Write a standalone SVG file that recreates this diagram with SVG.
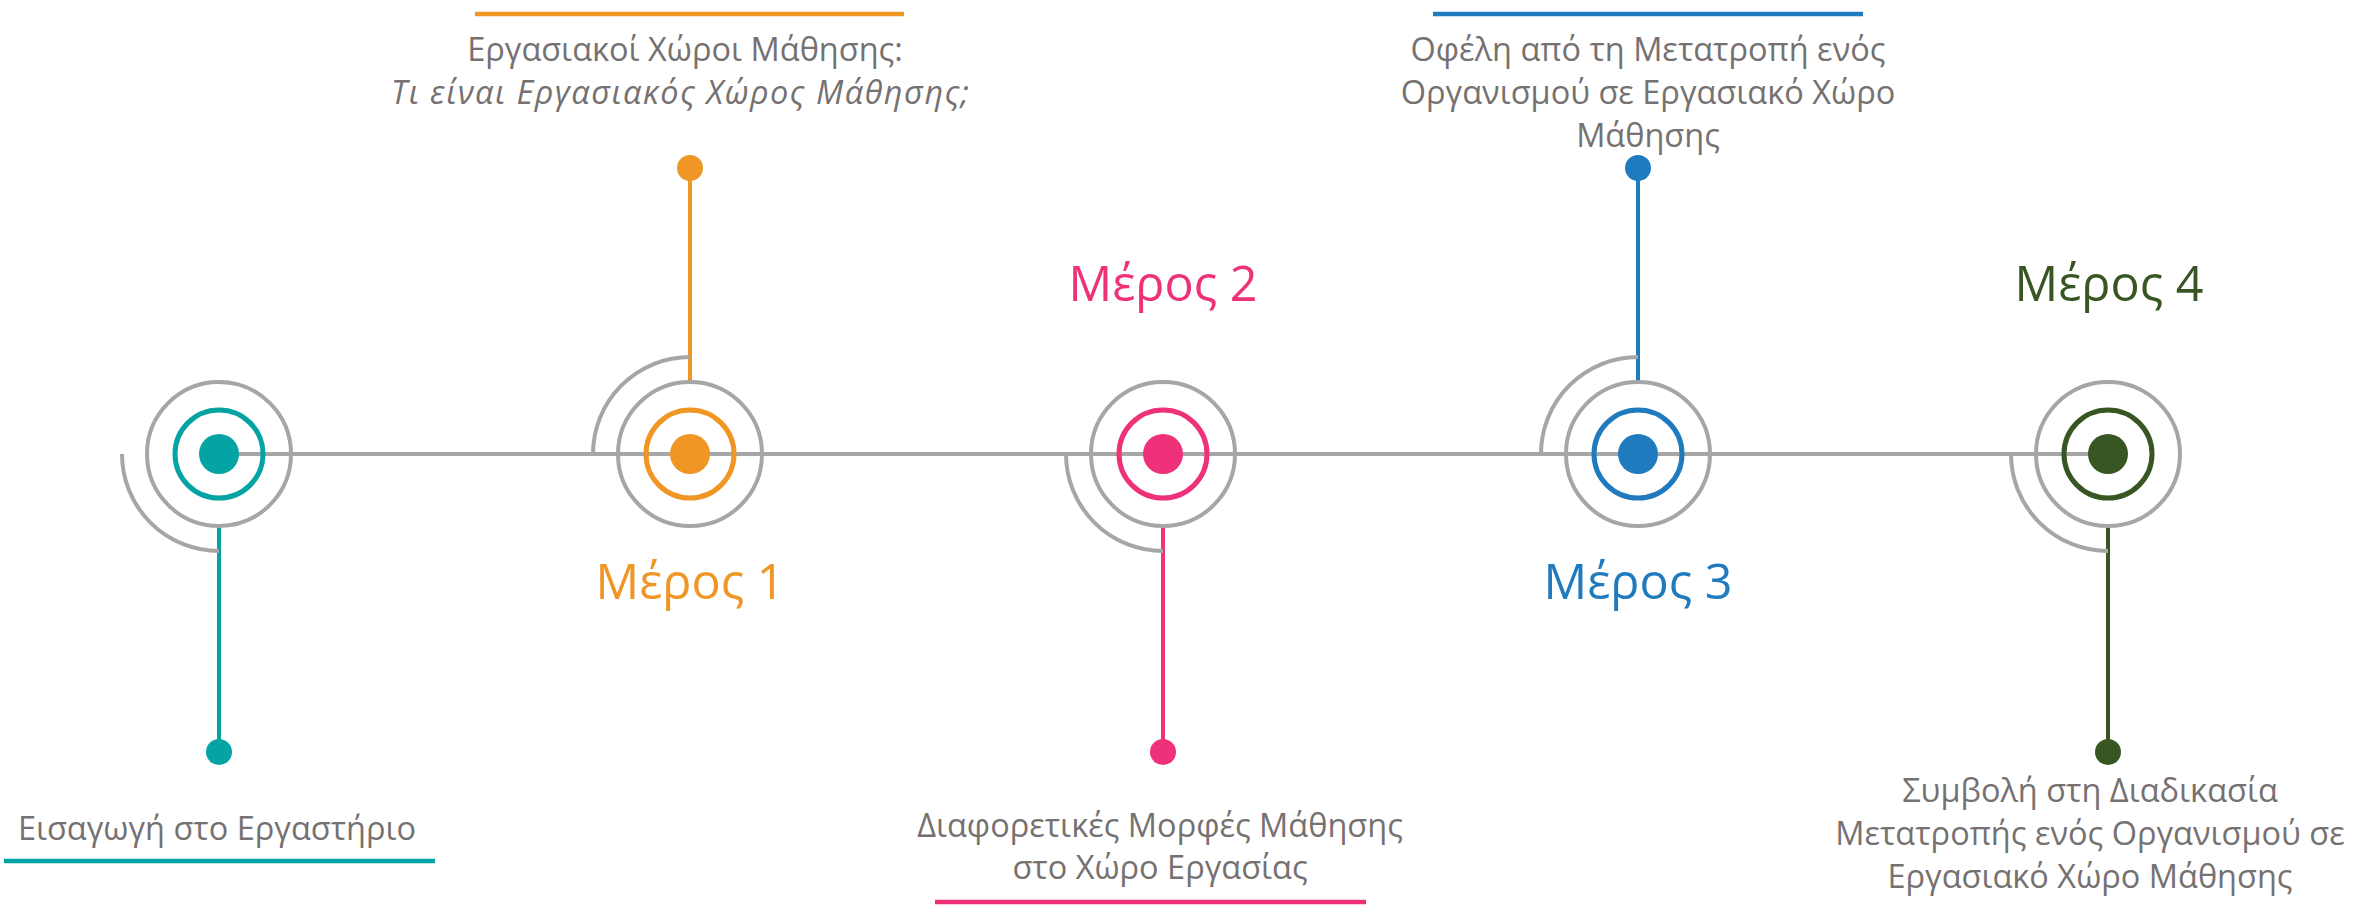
<svg xmlns="http://www.w3.org/2000/svg" width="2375" height="907" viewBox="0 0 2375 907">
<style>
.bg{fill:#ffffff}
.gray{fill:none;stroke:#A6A6A6;stroke-width:4}
.ring{fill:none;stroke-width:5}
.stem{stroke-width:4;fill:none}
.ul{stroke-width:4.5;fill:none}
.txt{font-family:"Open Sans","Noto Sans","DejaVu Sans",sans-serif;font-size:32.5px;fill:#767171;text-anchor:middle}
.it{font-style:italic}
.part{font-family:"Open Sans","Noto Sans","DejaVu Sans",sans-serif;font-size:48.5px;text-anchor:middle}
.c1{stroke:#05A3A4}.f1{fill:#05A3A4}
.c2{stroke:#EF9625}.f2{fill:#EF9625}
.c3{stroke:#EE3178}.f3{fill:#EE3178}
.c4{stroke:#1F7BBE}.f4{fill:#1F7BBE}
.c5{stroke:#375623}.f5{fill:#375623}
</style>
<rect class="bg" x="0" y="0" width="2375" height="907"/>
<g id="connectors">
<line class="gray" x1="219" y1="454" x2="2108" y2="454"/>
<line class="stem c1" x1="219" y1="526" x2="219" y2="752"/>
<line class="stem c2" x1="690" y1="382" x2="690" y2="168"/>
<line class="stem c3" x1="1163" y1="526" x2="1163" y2="752"/>
<line class="stem c4" x1="1638" y1="382" x2="1638" y2="168"/>
<line class="stem c5" x1="2108" y1="526" x2="2108" y2="752"/>
</g>
<g id="node1">
<path class="gray" d="M122,454 A97,97 0 0 0 219,551"/>
<circle class="gray" cx="219" cy="454" r="72"/>
<circle class="ring c1" cx="219" cy="454" r="44"/>
<circle class="f1" cx="219" cy="454" r="20"/>
<circle class="f1" cx="219" cy="752" r="13"/>
<text class="txt" x="217" y="840">Εισαγωγή στο Εργαστήριο</text>
<line class="ul c1" x1="4" y1="861" x2="435" y2="861"/>
</g>
<g id="node2">
<path class="gray" d="M593,454 A97,97 0 0 1 690,357"/>
<circle class="gray" cx="690" cy="454" r="72"/>
<circle class="ring c2" cx="690" cy="454" r="44"/>
<circle class="f2" cx="690" cy="454" r="20"/>
<circle class="f2" cx="690" cy="168" r="13"/>
<text class="part f2" x="690" y="599">Μέρος 1</text>
<line class="ul c2" x1="475" y1="14" x2="904" y2="14"/>
<text class="txt" x="685" y="61">Εργασιακοί Χώροι Μάθησης:</text>
<text class="txt it" x="680" y="104" textLength="578">Τι είναι Εργασιακός Χώρος Μάθησης;</text>
</g>
<g id="node3">
<path class="gray" d="M1066,454 A97,97 0 0 0 1163,551"/>
<circle class="gray" cx="1163" cy="454" r="72"/>
<circle class="ring c3" cx="1163" cy="454" r="44"/>
<circle class="f3" cx="1163" cy="454" r="20"/>
<circle class="f3" cx="1163" cy="752" r="13"/>
<text class="part f3" x="1163" y="301">Μέρος 2</text>
<text class="txt" x="1160" y="837">Διαφορετικές Μορφές Μάθησης</text>
<text class="txt" x="1160" y="879">στο Χώρο Εργασίας</text>
<line class="ul c3" x1="935" y1="902" x2="1366" y2="902"/>
</g>
<g id="node4">
<path class="gray" d="M1541,454 A97,97 0 0 1 1638,357"/>
<circle class="gray" cx="1638" cy="454" r="72"/>
<circle class="ring c4" cx="1638" cy="454" r="44"/>
<circle class="f4" cx="1638" cy="454" r="20"/>
<circle class="f4" cx="1638" cy="168" r="13"/>
<text class="part f4" x="1638" y="599">Μέρος 3</text>
<line class="ul c4" x1="1433" y1="14" x2="1863" y2="14"/>
<text class="txt" x="1648" y="61">Οφέλη από τη Μετατροπή ενός</text>
<text class="txt" x="1648" y="104">Οργανισμού σε Εργασιακό Χώρο</text>
<text class="txt" x="1648" y="147">Μάθησης</text>
</g>
<g id="node5">
<path class="gray" d="M2011,454 A97,97 0 0 0 2108,551"/>
<circle class="gray" cx="2108" cy="454" r="72"/>
<circle class="ring c5" cx="2108" cy="454" r="44"/>
<circle class="f5" cx="2108" cy="454" r="20"/>
<circle class="f5" cx="2108" cy="752" r="13"/>
<text class="part f5" x="2109" y="301">Μέρος 4</text>
<text class="txt" x="2090" y="802">Συμβολή στη Διαδικασία</text>
<text class="txt" x="2090" y="845">Μετατροπής ενός Οργανισμού σε</text>
<text class="txt" x="2090" y="888">Εργασιακό Χώρο Μάθησης</text>
</g>
</svg>
